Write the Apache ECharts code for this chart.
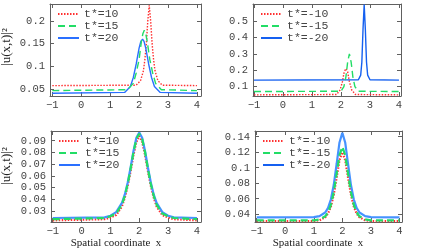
<!DOCTYPE html>
<html><head><meta charset="utf-8">
<script src="https://cdn.jsdelivr.net/npm/echarts@6/dist/echarts.min.js"></script>
<style>html,body{margin:0;padding:0;background:#fff}#c{width:421px;height:252px}</style>
</head><body><div id="c"></div>
<script>
// ---- data ----
const xTicks = [-1, 0, 1, 2, 3, 4];
const p1YTicks = [0.05, 0.1, 0.15, 0.2];
const p2YTicks = [0.1, 0.2, 0.3, 0.4, 0.5];
const p3YTicks = [0.03, 0.04, 0.05, 0.06, 0.07, 0.08, 0.09];
const p4YTicks = [0.04, 0.06, 0.08, 0.1, 0.12, 0.14];

const namesPos = ['t*=10', 't*=15', 't*=20'];
const namesNeg = ['t*=-10', 't*=-15', 't*=-20'];

// panel 1 (top-left)
const p1Red = [[-1,0.057],[1.9,0.058],[2.05,0.068],[2.15,0.09],[2.2,0.115],[2.25,0.15],[2.3,0.2],[2.35,0.235],[2.4,0.2],[2.45,0.15],[2.5,0.115],[2.55,0.09],[2.65,0.068],[2.8,0.058],[4,0.057]];
const p1Green = [[-1,0.046],[1.6,0.048],[1.8,0.062],[1.9,0.085],[2.0,0.115],[2.08,0.155],[2.13,0.172],[2.18,0.18],[2.23,0.172],[2.28,0.155],[2.37,0.115],[2.47,0.085],[2.57,0.062],[2.77,0.048],[4,0.046]];
const p1Blue = [[-1,0.040],[1.5,0.042],[1.7,0.055],[1.8,0.075],[1.9,0.105],[2.0,0.14],[2.06,0.155],[2.12,0.16],[2.17,0.155],[2.23,0.14],[2.33,0.105],[2.43,0.075],[2.53,0.055],[2.73,0.042],[4,0.040]];

// panel 2 (top-right)
const p2Red = [[-1,0.05],[1.85,0.052],[1.97,0.08],[2.05,0.13],[2.11,0.19],[2.17,0.21],[2.23,0.19],[2.29,0.13],[2.37,0.08],[2.5,0.052],[4,0.05]];
const p2Green = [[-1,0.07],[2.0,0.072],[2.1,0.1],[2.17,0.16],[2.23,0.25],[2.29,0.3],[2.35,0.25],[2.41,0.16],[2.48,0.1],[2.6,0.072],[4,0.07]];
const p2Blue = [[-1,0.14],[2.6,0.142],[2.68,0.17],[2.72,0.25],[2.76,0.45],[2.8,0.6],[2.84,0.45],[2.88,0.25],[2.92,0.17],[3.0,0.142],[4,0.14]];

// panel 3 (bottom-left)
const p3Red = [[-1,0.022],[0.8,0.023],[1.0,0.0245],[1.2,0.0265],[1.4,0.034],[1.5,0.0415],[1.6,0.0515],[1.7,0.064],[1.8,0.078],[1.9,0.089],[2.0,0.094],[2.1,0.089],[2.2,0.078],[2.3,0.064],[2.4,0.0515],[2.5,0.0415],[2.6,0.034],[2.8,0.0265],[3.0,0.0245],[3.2,0.023],[4,0.022]];
const p3Green = [[-1,0.023],[0.8,0.024],[1.0,0.0255],[1.2,0.0278],[1.4,0.0355],[1.5,0.043],[1.6,0.053],[1.7,0.066],[1.8,0.0802],[1.9,0.0915],[2.0,0.096],[2.1,0.0915],[2.2,0.0802],[2.3,0.066],[2.4,0.053],[2.5,0.043],[2.6,0.0355],[2.8,0.0278],[3.0,0.0255],[3.2,0.024],[4,0.023]];
const p3Blue = [[-1,0.024],[0.8,0.0246],[1.0,0.0259],[1.2,0.029],[1.4,0.0369],[1.5,0.0441],[1.6,0.0543],[1.7,0.0672],[1.8,0.0812],[1.9,0.0925],[2.0,0.097],[2.1,0.0925],[2.2,0.0812],[2.3,0.0672],[2.4,0.0543],[2.5,0.0441],[2.6,0.0369],[2.8,0.029],[3.0,0.0259],[3.2,0.0246],[4,0.024]];

// panel 4 (bottom-right)
const p4Red = [[-1,0.031],[1.0,0.0312],[1.2,0.0322],[1.4,0.0361],[1.5,0.041],[1.6,0.050],[1.7,0.0654],[1.8,0.0872],[1.9,0.1099],[2.0,0.120],[2.1,0.1099],[2.2,0.0872],[2.3,0.0654],[2.4,0.050],[2.5,0.041],[2.6,0.0361],[2.8,0.0322],[3.0,0.0312],[4,0.031]];
const p4Green = [[-1,0.032],[1.0,0.0322],[1.2,0.0333],[1.4,0.0374],[1.5,0.0426],[1.6,0.0523],[1.7,0.0687],[1.8,0.092],[1.9,0.1162],[2.0,0.127],[2.1,0.1162],[2.2,0.092],[2.3,0.0687],[2.4,0.0523],[2.5,0.0426],[2.6,0.0374],[2.8,0.0333],[3.0,0.0322],[4,0.032]];
const p4Blue = [[-1,0.036],[1.0,0.0362],[1.2,0.0375],[1.4,0.0422],[1.5,0.0482],[1.6,0.0593],[1.7,0.078],[1.8,0.1048],[1.9,0.1326],[2.0,0.145],[2.1,0.1326],[2.2,0.1048],[2.3,0.078],[2.4,0.0593],[2.5,0.0482],[2.6,0.0422],[2.8,0.0375],[3.0,0.0362],[4,0.036]];

// ---- layout / style ----
const grids = [
  {left: 50, top: 4, width: 151, height: 92, xmin: -1.08, xmax: 4.14, ymin: 0.034, ymax: 0.238, yt: p1YTicks, names: namesPos, data: [p1Red, p1Green, p1Blue], w: 1.4, blue: '#2a70ff'},
  {left: 253, top: 4, width: 148, height: 92, xmin: -1.035, xmax: 4.07, ymin: 0.043, ymax: 0.604, yt: p2YTicks, names: namesNeg, data: [p2Red, p2Green, p2Blue], w: 1.4, blue: '#1560f0'},
  {left: 51, top: 131, width: 150, height: 91, xmin: -1.06, xmax: 4.14, ymin: 0.0206, ymax: 0.0983, yt: p3YTicks, names: namesPos, data: [p3Red, p3Green, p3Blue], w: 2.2, blue: '#4592ff'},
  {left: 255, top: 131, width: 147, height: 91, xmin: -1.06, xmax: 4.09, ymin: 0.030, ymax: 0.1474, yt: p4YTicks, names: namesNeg, data: [p4Red, p4Green, p4Blue], w: 2.2, blue: '#4592ff'}
];
const colors = ['#ff3030', '#22dd66', '#2a74ff'];
const dashes = [[1.5, 1.5], [7, 4], 'solid'];
const frame = '#606060';
const mono = '"Liberation Mono", "DejaVu Sans Mono", monospace';
const serif = '"Liberation Serif", "DejaVu Serif", serif';

const option = {animation: false, backgroundColor: '#fff', grid: [], xAxis: [], yAxis: [], series: [], legend: [], graphic: []};
grids.forEach((g, i) => {
  option.grid.push({left: g.left, top: g.top, width: g.width, height: g.height, containLabel: false});
  const axLine = {show: true, onZero: false, lineStyle: {color: frame, width: 1}};
  option.xAxis.push({type: 'value', gridIndex: i, min: g.xmin, max: g.xmax, position: 'bottom',
    axisLine: axLine, splitLine: {show: false},
    axisTick: {show: true, inside: true, length: 4, customValues: xTicks, lineStyle: {color: frame}},
    axisLabel: {customValues: xTicks, margin: 4, fontFamily: mono, fontSize: 10.5, color: '#444',
      formatter: v => String(v).replace('-', '\u2212')}});
  option.xAxis.push({type: 'value', gridIndex: i, min: g.xmin, max: g.xmax, position: 'top',
    axisLine: axLine, splitLine: {show: false},
    axisTick: {show: true, inside: true, length: 4, customValues: xTicks, lineStyle: {color: frame}},
    axisLabel: {show: false}});
  option.yAxis.push({type: 'value', gridIndex: i, min: g.ymin, max: g.ymax, position: 'left',
    axisLine: axLine, splitLine: {show: false},
    axisTick: {show: true, inside: true, length: 4, customValues: g.yt, lineStyle: {color: frame}},
    axisLabel: {customValues: g.yt, margin: 5, fontFamily: mono, fontSize: 10.5, color: '#444'}});
  option.yAxis.push({type: 'value', gridIndex: i, min: g.ymin, max: g.ymax, position: 'right',
    axisLine: axLine, splitLine: {show: false},
    axisTick: {show: true, inside: true, length: 4, customValues: g.yt, lineStyle: {color: frame}},
    axisLabel: {show: false}});
  const cols = [colors[0], colors[1], g.blue];
  g.data.forEach((d, k) => {
    option.series.push({type: 'line', name: g.names[k], xAxisIndex: 2 * i, yAxisIndex: 2 * i,
      data: d, symbol: 'none', clip: true, z: 3 + (k === 2 ? 0 : k),
      lineStyle: {color: cols[k], width: g.w, type: dashes[k]}, itemStyle: {color: cols[k]}});
  });
  option.legend.push({data: g.names, orient: 'vertical', left: g.left + 7, top: g.top + 4,
    itemWidth: 21, itemHeight: 6, itemGap: 0, selectedMode: false,
    itemStyle: {opacity: 0, borderWidth: 0},
    textStyle: {fontFamily: mono, fontSize: 11.5, color: '#444', lineHeight: 10}, padding: 0});
});
option.graphic.push({type: 'text', x: 7, y: 47, rotation: Math.PI / 2,
  style: {text: '|u(x,t)|²', font: '13px ' + serif, fill: '#222', align: 'center', verticalAlign: 'middle'}});
option.graphic.push({type: 'text', x: 7, y: 166, rotation: Math.PI / 2,
  style: {text: '|u(x,t)|²', font: '13px ' + serif, fill: '#222', align: 'center', verticalAlign: 'middle'}});
option.graphic.push({type: 'text', x: 116, y: 243,
  style: {text: 'Spatial coordinate  x', font: '11px ' + serif, fill: '#222', align: 'center', verticalAlign: 'middle'}});
option.graphic.push({type: 'text', x: 318, y: 243,
  style: {text: 'Spatial coordinate  x', font: '11px ' + serif, fill: '#222', align: 'center', verticalAlign: 'middle'}});

const chart = echarts.init(document.getElementById('c'), null, {renderer: 'canvas'});
chart.setOption(option);
</script></body></html>
